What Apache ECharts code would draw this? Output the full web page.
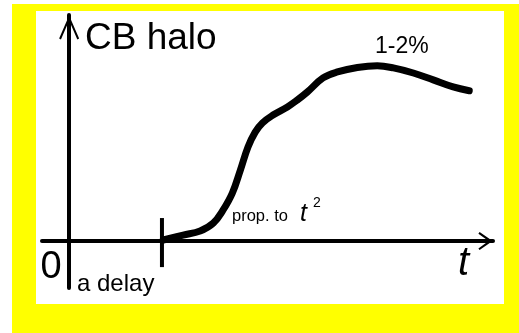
<!DOCTYPE html>
<html>
<head>
<meta charset="utf-8">
<style>
  html, body { margin: 0; padding: 0; background: #fff; }
  #main { width: 519px; height: 333px; }
</style>
<script src="https://cdn.jsdelivr.net/npm/echarts@6/dist/echarts.min.js"></script>
</head>
<body>
<div id="main"></div>
<script>
// halo curve (time units, arbitrary halo units)
var haloTime = [2.22, 2.69, 3.09, 3.40, 3.63, 3.85, 4.04, 4.22, 4.39, 4.56, 4.81, 5.15, 5.38, 5.62, 5.99, 6.33, 6.80, 7.27, 7.65, 8.12, 8.59, 9.06, 9.44];
var haloValue = [0.05, 0.28, 0.47, 0.84, 1.45, 2.25, 3.33, 4.41, 5.11, 5.54, 5.91, 6.29, 6.61, 6.99, 7.65, 7.93, 8.14, 8.22, 8.12, 7.88, 7.56, 7.23, 7.05];
var delayTime = 2.19;
var delayTick = [1.08, -1.22];
var xRange = [-0.64, 10.0];
var yRange = [-2.2, 10.6];

var curve = haloTime.map(function (t, i) { return [t, haloValue[i]]; });
var tick = delayTick.map(function (v) { return [delayTime, v]; });

var myChart = echarts.init(document.getElementById('main'));
var font = '"Liberation Sans", Arial, sans-serif';

var option = {
	backgroundColor: '#ffffff',
	animation: false,
	grid: { left: 42, right: 26, top: 15, bottom: 45 },
	xAxis: {
		type: 'value',
		min: xRange[0],
		max: xRange[1],
		axisLine: {
			onZero: true,
			lineStyle: { color: '#000', width: 4 },
			symbol: ['none', 'path://M9,0 L18,13 L16.3,14.2 L9,4 L1.7,14.2 L0,13 Z'],
			symbolSize: [18, 15],
			symbolOffset: [0, -7.5]
		},
		axisTick: { show: false },
		axisLabel: { show: false },
		splitLine: { show: false }
	},
	yAxis: {
		type: 'value',
		min: yRange[0],
		max: yRange[1],
		axisLine: {
			onZero: true,
			lineStyle: { color: '#000', width: 4 },
			symbol: ['none', 'path://M10,0 L20,23 L18.2,24.2 L10,5 L1.8,24.2 L0,23 Z'],
			symbolSize: [20, 25],
			symbolOffset: [0, -12.5]
		},
		axisTick: { show: false },
		axisLabel: { show: false },
		splitLine: { show: false }
	},
	graphic: [
		{ type: 'rect', z: -10, shape: { x: 12, y: 4, width: 507, height: 329 }, style: { fill: '#ffff00' } },
		{ type: 'rect', z: -9, shape: { x: 36, y: 11, width: 468, height: 293 }, style: { fill: '#ffffff' } },
		{ type: 'text', x: 85, y: 39, style: { text: 'CB halo', font: '37px ' + font, fill: '#000', verticalAlign: 'middle' } },
		{ type: 'text', x: 51, y: 268, style: { text: '0', font: '38px ' + font, fill: '#000', align: 'center', verticalAlign: 'middle' } },
		{ type: 'text', x: 77, y: 284, style: { text: 'a delay', font: '24px ' + font, fill: '#000', verticalAlign: 'middle' } },
		{ type: 'text', x: 232, y: 216, style: { text: 'prop. to', font: '16.5px ' + font, fill: '#000', verticalAlign: 'middle' } },
		{ type: 'text', x: 300, y: 214, style: { text: 't', font: 'italic 25px ' + font, fill: '#000', verticalAlign: 'middle' } },
		{ type: 'text', x: 313, y: 203, style: { text: '2', font: '14px ' + font, fill: '#000', verticalAlign: 'middle' } },
		{ type: 'text', x: 375, y: 47, style: { text: '1-2%', font: '23px ' + font, fill: '#000', verticalAlign: 'middle' } },
		{ type: 'text', x: 458, y: 264, style: { text: 't', font: 'italic 40px ' + font, fill: '#000', verticalAlign: 'middle' } }
	],
	series: [
		{
			name: 'CB halo',
			type: 'line',
			data: curve,
			smooth: 0.4,
			showSymbol: false,
			lineStyle: { color: '#000', width: 7, cap: 'round', join: 'round' }
		},
		{
			name: 'delay',
			type: 'line',
			data: tick,
			showSymbol: false,
			lineStyle: { color: '#000', width: 4 }
		}
	]
};
myChart.setOption(option);
</script>
</body>
</html>
